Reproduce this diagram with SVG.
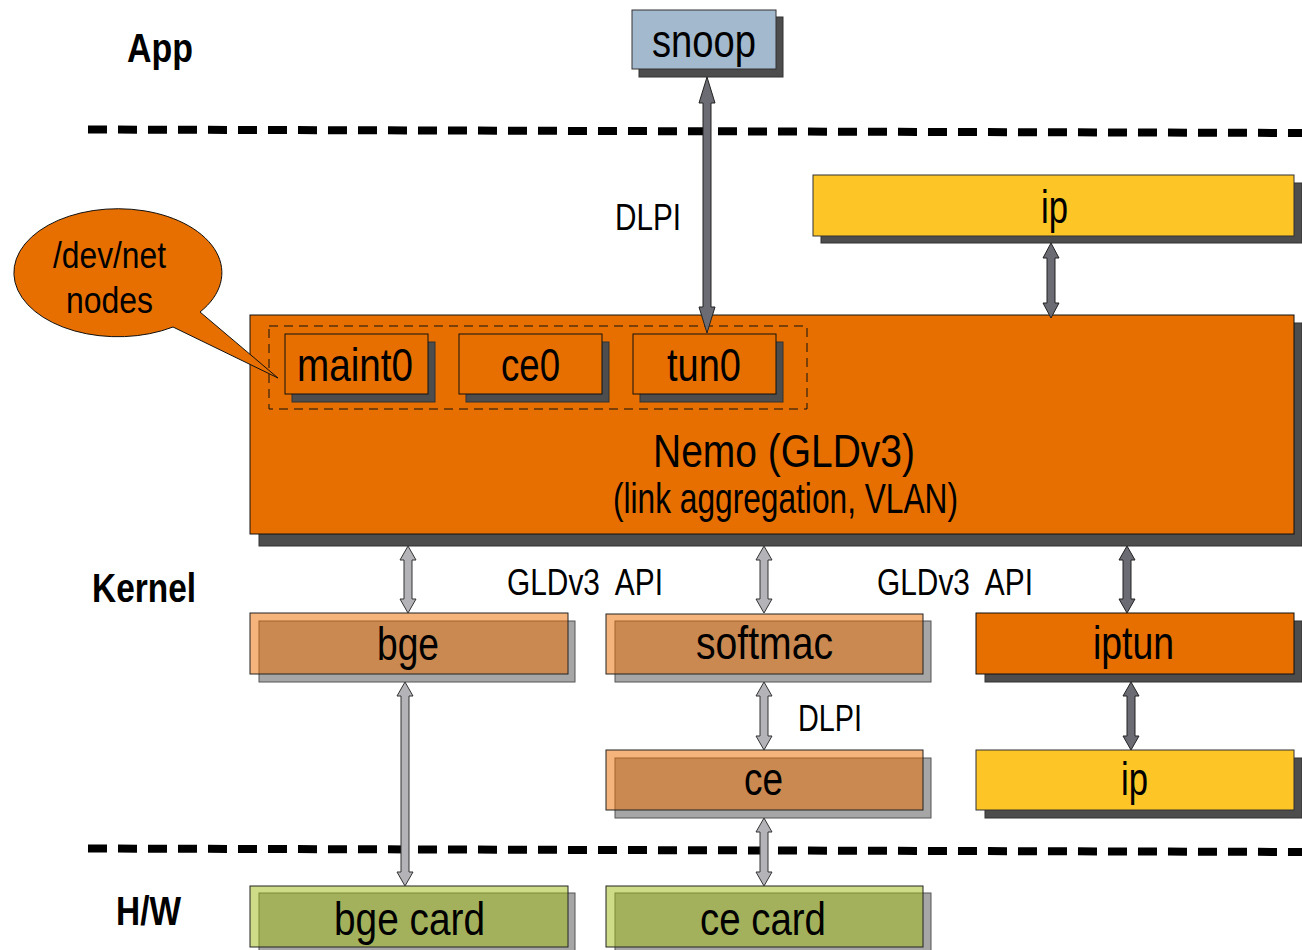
<svg xmlns="http://www.w3.org/2000/svg" width="1302" height="950" viewBox="0 0 1302 950">
  <style>
    text { font-family: "Liberation Sans", Arial, sans-serif; fill: #000; }
    .layer { font-weight: bold; font-size: 40px; }
    .lbl { font-size: 47px; }
    .note { font-size: 36px; white-space: pre; }
    .shadow { fill: #4d4d4d; stroke: #333; stroke-width: 1; }
    .shadow-lt { fill: #a6a6a6; stroke: #555; stroke-width: 1; }
    .orange { fill: #e66f00; stroke: #111; stroke-width: 1; }
    .yellow { fill: #fdc526; stroke: #333; stroke-width: 1; }
    .blue { fill: #a3b9cd; stroke: #333; stroke-width: 1; }
    .drv { fill: #e96f03; fill-opacity: 0.52; stroke: #222; stroke-width: 1; }
    .card { fill: #a1bc18; fill-opacity: 0.52; stroke: #222; stroke-width: 1; }
    .sep { stroke: #000; stroke-width: 8; stroke-dasharray: 19 11; fill: none; }
    .arr-dk { fill: #6b6b73; stroke: #222; stroke-width: 1; }
    .arr-lt { fill: #b4b4b8; stroke: #333; stroke-width: 1; }
  </style>

  <rect width="1302" height="950" fill="#fff"/>

  <!-- layer separators -->
  <g id="separators">
    <line class="sep" x1="88" y1="129.5" x2="1302" y2="133"/>
    <line class="sep" x1="88" y1="848.5" x2="1302" y2="852"/>
  </g>

  <!-- layer labels -->
  <g id="layers">
    <text class="layer" x="127" y="62" textLength="66" lengthAdjust="spacingAndGlyphs">App</text>
    <text class="layer" x="92" y="602" textLength="104" lengthAdjust="spacingAndGlyphs">Kernel</text>
    <text class="layer" x="116" y="925" textLength="65" lengthAdjust="spacingAndGlyphs">H/W</text>
  </g>

  <g id="snoop">
    <rect class="shadow" x="639" y="17" width="144" height="60"/>
    <rect class="blue" x="632" y="10" width="144" height="59"/>
    <text class="lbl" x="652" y="57" textLength="104" lengthAdjust="spacingAndGlyphs">snoop</text>
  </g>

  <g id="ip-top">
    <rect class="shadow" x="821" y="183" width="481" height="60"/>
    <rect class="yellow" x="813" y="175" width="481" height="61"/>
    <text class="lbl" x="1041" y="223" textLength="27" lengthAdjust="spacingAndGlyphs">ip</text>
  </g>

  <g id="nemo">
    <rect class="shadow" x="259" y="323" width="1043" height="223"/>
    <rect class="orange" x="250" y="315" width="1044" height="219"/>
    <rect x="269" y="326" width="538" height="83" fill="none" stroke="#111" stroke-width="1" stroke-dasharray="9 6"/>
    <text x="653" y="467" font-size="46" textLength="262" lengthAdjust="spacingAndGlyphs">Nemo (GLDv3)</text>
    <text x="613" y="513" font-size="42" textLength="345" lengthAdjust="spacingAndGlyphs">(link aggregation, VLAN)</text>
  </g>

  <g id="maint0">
    <rect class="shadow" x="292" y="342" width="143" height="60"/>
    <rect class="orange" x="285" y="334" width="143" height="60"/>
    <text class="lbl" x="297" y="381" textLength="116" lengthAdjust="spacingAndGlyphs">maint0</text>
  </g>

  <g id="ce0">
    <rect class="shadow" x="466" y="342" width="143" height="60"/>
    <rect class="orange" x="459" y="334" width="143" height="60"/>
    <text class="lbl" x="501" y="381" textLength="59" lengthAdjust="spacingAndGlyphs">ce0</text>
  </g>

  <g id="tun0">
    <rect class="shadow" x="640" y="342" width="143" height="60"/>
    <rect class="orange" x="633" y="334" width="143" height="60"/>
    <text class="lbl" x="667" y="381" textLength="74" lengthAdjust="spacingAndGlyphs">tun0</text>
  </g>

  <g id="devnet-callout">
    <path class="orange" d="M200,312 L278,378 L173,327 A104,64 0 1 1 200,312 Z"/>
    <text class="note" x="53" y="268" textLength="113" lengthAdjust="spacingAndGlyphs">/dev/net</text>
    <text class="note" x="66" y="313" textLength="87" lengthAdjust="spacingAndGlyphs">nodes</text>
  </g>

  <g id="bge">
    <rect class="shadow-lt" x="259" y="621" width="316" height="61"/>
    <rect class="drv" x="250" y="613" width="318" height="61"/>
    <text class="lbl" x="377" y="660" textLength="62" lengthAdjust="spacingAndGlyphs">bge</text>
  </g>

  <g id="softmac">
    <rect class="shadow-lt" x="615" y="621" width="316" height="61"/>
    <rect class="drv" x="606" y="614" width="317" height="60"/>
    <text class="lbl" x="696" y="659" textLength="137" lengthAdjust="spacingAndGlyphs">softmac</text>
  </g>

  <g id="ce">
    <rect class="shadow-lt" x="615" y="758" width="316" height="60"/>
    <rect class="drv" x="606" y="750" width="317" height="60"/>
    <text class="lbl" x="744" y="795" textLength="39" lengthAdjust="spacingAndGlyphs">ce</text>
  </g>

  <g id="iptun">
    <rect class="shadow" x="985" y="621" width="317" height="61"/>
    <rect class="orange" x="976" y="613" width="318" height="61"/>
    <text class="lbl" x="1093" y="659" textLength="81" lengthAdjust="spacingAndGlyphs">iptun</text>
  </g>

  <g id="ip-bottom">
    <rect class="shadow" x="985" y="758" width="317" height="60"/>
    <rect class="yellow" x="976" y="750" width="318" height="60"/>
    <text class="lbl" x="1121" y="795" textLength="27" lengthAdjust="spacingAndGlyphs">ip</text>
  </g>

  <g id="bge-card">
    <rect class="shadow-lt" x="259" y="893" width="316" height="62"/>
    <rect class="card" x="250" y="886" width="318" height="61"/>
    <text class="lbl" x="334" y="935" textLength="151" lengthAdjust="spacingAndGlyphs">bge card</text>
  </g>

  <g id="ce-card">
    <rect class="shadow-lt" x="615" y="893" width="316" height="62"/>
    <rect class="card" x="606" y="886" width="317" height="61"/>
    <text class="lbl" x="700" y="935" textLength="126" lengthAdjust="spacingAndGlyphs">ce card</text>
  </g>

  <!-- interface labels -->
  <g id="interface-labels">
    <text class="note" x="615" y="230" textLength="66" lengthAdjust="spacingAndGlyphs">DLPI</text>
    <text class="note" x="507" y="595" textLength="156" lengthAdjust="spacingAndGlyphs">GLDv3  API</text>
    <text class="note" x="877" y="595" textLength="156" lengthAdjust="spacingAndGlyphs">GLDv3  API</text>
    <text class="note" x="798" y="731" textLength="64" lengthAdjust="spacingAndGlyphs">DLPI</text>
  </g>

  <!-- double-headed connectors -->
  <g id="connectors">
    <polygon class="arr-dk" points="707,77 715,103 711,103 711,307 715,307 707,333 699,307 703,307 703,103 699,103"/>
    <polygon class="arr-dk" points="1051,243 1059,258 1055,258 1055,303 1059,303 1051,318 1043,303 1047,303 1047,258 1043,258"/>
    <polygon class="arr-lt" points="408,546 416,560 412,560 412,599 416,599 408,613 400,599 404,599 404,560 400,560"/>
    <polygon class="arr-lt" points="764,546 772,560 768,560 768,599 772,599 764,613 756,599 760,599 760,560 756,560"/>
    <polygon class="arr-dk" points="1127,546 1135,560 1131,560 1131,599 1135,599 1127,613 1119,599 1123,599 1123,560 1119,560"/>
    <polygon class="arr-dk" points="1131,682 1139,696 1135,696 1135,736 1139,736 1131,750 1123,736 1127,736 1127,696 1123,696"/>
    <polygon class="arr-lt" points="764,682 772,696 768,696 768,736 772,736 764,750 756,736 760,736 760,696 756,696"/>
    <polygon class="arr-lt" points="405,682 413,696 409,696 409,872 413,872 405,886 397,872 401,872 401,696 397,696"/>
    <polygon class="arr-lt" points="764,818 772,832 768,832 768,872 772,872 764,886 756,872 760,872 760,832 756,832"/>
  </g>
</svg>
